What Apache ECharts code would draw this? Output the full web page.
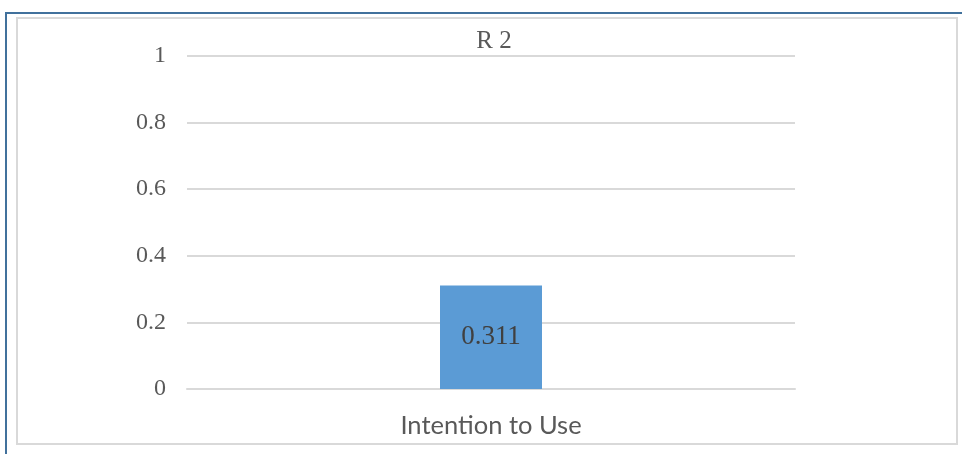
<!DOCTYPE html>
<html>
<head>
<meta charset="utf-8">
<script src="https://cdn.jsdelivr.net/npm/echarts@6/dist/echarts.min.js"></script>
<style>
  html, body { margin: 0; padding: 0; background: #ffffff; }
  #chart { width: 962px; height: 454px; }
</style>
</head>
<body>
<div id="chart"></div>
<script>
// R² of the model's dependent construct
const categories = ['Intention to Use'];
const r2Values = [0.311];
const yTicks = [0, 0.2, 0.4, 0.6, 0.8, 1];

const textColor = '#595959';
const serif = '"Liberation Serif", "DejaVu Serif", serif';

const chart = echarts.init(document.getElementById('chart'));
chart.setOption({
  backgroundColor: '#ffffff',
  animation: false,
  title: {
    text: 'R 2',
    left: 489,
    textAlign: 'center',
    top: 24,
    textStyle: { fontFamily: serif, fontSize: 25, fontWeight: 'normal', color: textColor }
  },
  graphic: [
    // frame around the chart area
    { type: 'rect', shape: { x: 17, y: 18, width: 940, height: 426 },
      style: { fill: 'none', stroke: '#d9d9d9', lineWidth: 2 }, z: -1 },
    // dark blue edge on top and left
    { type: 'rect', shape: { x: 5, y: 12, width: 957, height: 2 },
      style: { fill: '#41719c' } },
    { type: 'rect', shape: { x: 5, y: 12, width: 2, height: 442 },
      style: { fill: '#41719c' } }
  ],
  grid: { left: 187, right: 167, top: 56, bottom: 65, containLabel: false },
  xAxis: {
    type: 'category',
    data: categories,
    axisLine: { lineStyle: { color: '#d9d9d9', width: 2 } },
    axisTick: { show: false },
    axisLabel: {
      margin: 24,
      fontFamily: 'Lato, "Open Sans", sans-serif',
      fontSize: 25.5,
      color: textColor
    }
  },
  yAxis: {
    type: 'value',
    min: yTicks[0],
    max: yTicks[yTicks.length - 1],
    interval: yTicks[1] - yTicks[0],
    axisLine: { show: false },
    axisTick: { show: false },
    splitLine: { lineStyle: { color: '#d9d9d9', width: 2 } },
    axisLabel: {
      margin: 21,
      fontFamily: serif,
      fontSize: 24,
      color: textColor,
      formatter: v => String(Math.round(v * 10) / 10)
    }
  },
  series: [{
    type: 'bar',
    data: r2Values,
    barWidth: 102,
    itemStyle: { color: '#5b9bd5' },
    label: {
      show: true,
      position: 'inside',
      fontFamily: serif,
      fontSize: 27,
      color: '#404040',
      formatter: p => p.value.toFixed(3)
    }
  }]
});
</script>
</body>
</html>
